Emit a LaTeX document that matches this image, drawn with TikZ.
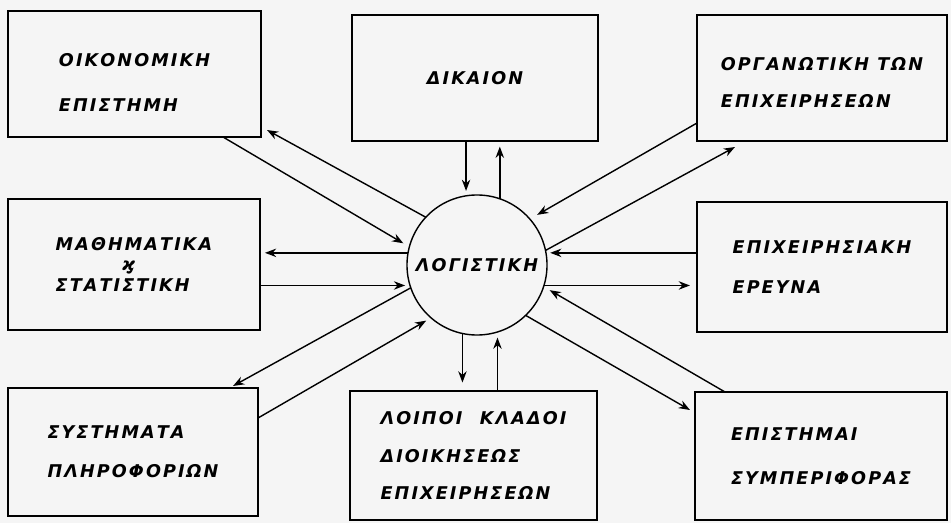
\documentclass[tikz,border=0pt]{standalone}
\usepackage{fontspec}
\setmainfont{DejaVu Sans}
\usetikzlibrary{arrows.meta,calc}

\begin{document}
\begin{tikzpicture}[x=0.025cm,y=-0.025cm]
\tikzstyle{box_style} = [draw, black, line width=1pt, inner sep=0pt, outer sep=0pt, align=left,
    font=\bfseries\itshape\addfontfeatures{LetterSpace=12}\fontsize{12.5}{28}\selectfont]
\tikzstyle{hub_style} = [circle, draw, black, line width=1pt, minimum size=3.5cm, inner sep=0pt, outer sep=0pt,
    font=\bfseries\itshape\addfontfeatures{LetterSpace=12}\fontsize{12.5}{28}\selectfont]
\tikzstyle{edge_style} = [black, line width=1pt, -{Stealth[length=8pt,width=6pt]}]
    \fill[black!4] (0,0) rectangle (951,523);

    \node[hub_style] (log) at (477,265) {ΛΟΓΙΣΤΙΚΗ};

    \node[box_style, minimum width=6.325cm, minimum height=3.15cm] (oiko) at (134.5,74) {\rule{0pt}{22pt}ΟΙΚΟΝΟΜΙΚΗ\\[4pt]ΕΠΙΣΤΗΜΗ};
    \node[box_style, minimum width=6.15cm, minimum height=3.15cm] (dik) at (475,78) {ΔΙΚΑΙΟΝ};
    \node[box_style, minimum width=6.25cm, minimum height=3.15cm] (org) at (822,78) {\rule{0pt}{16pt}ΟΡΓΑΝΩΤΙΚΗ ΤΩΝ\\[-2pt]ΕΠΙΧΕΙΡΗΣΕΩΝ};
    \node[box_style, minimum width=6.3cm, minimum height=3.275cm] (math) at (134,264.5) {ΜΑΘΗΜΑΤΙΚΑ\\[-14pt]\hspace*{47pt}ϗ\\[-13pt]ΣΤΑΤΙΣΤΙΚΗ};
    \node[box_style, minimum width=6.25cm, minimum height=3.25cm] (epix) at (822,267) {ΕΠΙΧΕΙΡΗΣΙΑΚΗ\\ΕΡΕΥΝΑ};
    \node[box_style, minimum width=6.25cm, minimum height=3.2cm] (syst) at (133,452) {ΣΥΣΤΗΜΑΤΑ\\ΠΛΗΡΟΦΟΡΙΩΝ};
    \node[box_style, minimum width=6.175cm, minimum height=3.225cm] (loip) at (473.5,455.5) {ΛΟΙΠΟΙ\quad ΚΛΑΔΟΙ\\[-1pt]ΔΙΟΙΚΗΣΕΩΣ\\[-1pt]ΕΠΙΧΕΙΡΗΣΕΩΝ};
    \node[box_style, minimum width=6.3cm, minimum height=3.2cm] (epis) at (821,456) {ΕΠΙΣΤΗΜΑΙ\\[3pt]ΣΥΜΠΕΡΙΦΟΡΑΣ};

    % upper left
    \draw[edge_style, shorten >=5pt] ($(oiko.south east)+(-38,0)$) -- (log.165);
    \draw[edge_style] (log.137) -- ($(oiko.south east)+(6,-7)$);

    % top
    \draw[edge_style, shorten >=3.5pt] (log.99 |- dik.south) -- (log.99);
    \draw[edge_style, shorten >=4pt] (log.71) -- (log.71 |- dik.south);

    % upper right
    \draw[edge_style, shorten >=6pt] ($(org.south west)+(0,-18)$) -- (log.41);
    \draw[edge_style] (log.12) -- ($(org.south west)+(38,6)$);

    % left
    \draw[edge_style, shorten >=3.5pt] (log.170) -- (log.170 -| math.east);
    \draw[edge_style, shorten >=3.5pt] (math.east |- log.197) -- (log.197);

    % right
    \draw[edge_style, shorten >=3pt] (epix.west |- log.10) -- (log.10);
    \draw[edge_style, shorten >=5pt] (log.343) -- (log.343 -| epix.west);

    % lower left
    \draw[edge_style] (log.199) -- ($(syst.north east)+(-25,-2)$);
    \draw[edge_style, shorten >=4pt] ($(syst.east)+(0,-34)$) -- (log.229);

    % bottom
    \draw[edge_style, shorten >=6pt] (log.258) -- (log.258 |- loip.north);
    \draw[edge_style, shorten >=4pt] (log.287 |- loip.north) -- (log.287);

    % lower right
    \draw[edge_style] (log.314) -- ($(epis.west)+(-5,-46)$);
    \draw[edge_style, shorten >=5pt] ($(epis.north west)+(30,0)$) -- (log.342);
\end{tikzpicture}
\end{document}
